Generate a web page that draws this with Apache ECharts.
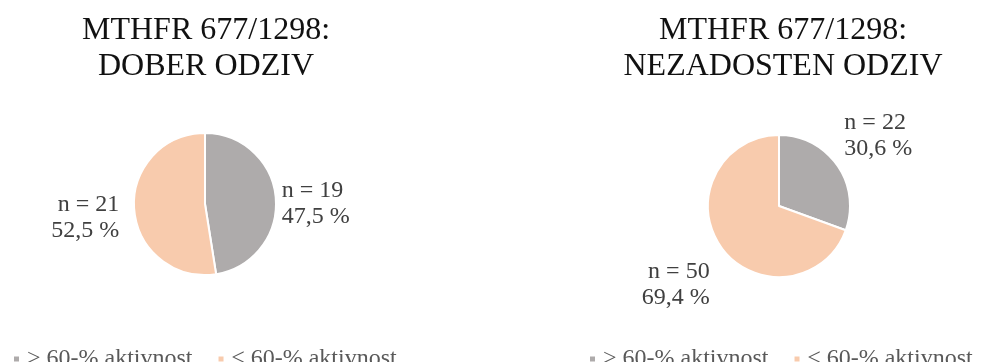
<!DOCTYPE html>
<html>
<head>
<meta charset="utf-8">
<script src="https://cdn.jsdelivr.net/npm/echarts@6/dist/echarts.min.js"></script>
<style>
  html, body { margin: 0; padding: 0; background: #fff; }
  #chart { width: 985px; height: 362px; }
</style>
</head>
<body>
<div id="chart"></div>
<script>
// Category names shared by both pies
const categories = ['> 60-% aktivnost', '≤ 60-% aktivnost'];
// Patient counts per category
const goodResponse = [19, 21];
const poorResponse = [22, 50];
const titles = ['MTHFR 677/1298:\nDOBER ODZIV', 'MTHFR 677/1298:\nNEZADOSTEN ODZIV'];

const colors = ['#AEABAB', '#F8CBAD'];
const serif = '"Liberation Serif", "DejaVu Serif", serif';

function toData(values) {
  return categories.map((name, i) => ({ name: name, value: values[i] }));
}

function fmt(p) {
  return 'n = ' + p.value + '\n' + p.percent.toFixed(1).replace('.', ',') + ' %';
}

// labelNudge: small per-slice shifts of the outside labels
function pieSeries(values, center, labelNudge) {
  return {
    type: 'pie',
    center: center,
    radius: 71,
    startAngle: 90,
    clockwise: true,
    percentPrecision: 1,
    avoidLabelOverlap: false,
    data: toData(values),
    itemStyle: { borderColor: '#fff', borderWidth: 2 },
    label: {
      show: true,
      position: 'outside',
      formatter: fmt,
      fontFamily: serif,
      fontSize: 24,
      lineHeight: 26,
      color: '#404040'
    },
    labelLine: { show: false, length: 10, length2: 0 },
    labelLayout: function (p) {
      const n = labelNudge[p.dataIndex];
      return { dx: n[0], dy: n[1] };
    },
    emphasis: { disabled: true }
  };
}

const titleStyle = { fontFamily: serif, fontSize: 32, fontWeight: 'normal', color: '#111', lineHeight: 36 };
const legendBase = {
  top: 342, itemWidth: 7, itemHeight: 7, itemGap: 24, icon: 'rect',
  data: categories, selectedMode: false,
  textStyle: { fontFamily: serif, fontSize: 24, color: '#595959', padding: [0, 0, 0, 2] }
};

const chart = echarts.init(document.getElementById('chart'), null, { renderer: 'canvas' });
chart.setOption({
  animation: false,
  color: colors,
  title: [
    { text: titles[0], left: 201, top: 8, textAlign: 'center', textStyle: titleStyle },
    { text: titles[1], left: 778, top: 8, textAlign: 'center', textStyle: titleStyle }
  ],
  legend: [
    Object.assign({ left: 7 }, legendBase),
    Object.assign({ left: 583 }, legendBase)
  ],
  series: [
    pieSeries(goodResponse, [205, 204], [[-9, 6], [0, 7]]),
    pieSeries(poorResponse, [779, 206], [[-6, -24], [2, 32]])
  ]
});
</script>
</body>
</html>
